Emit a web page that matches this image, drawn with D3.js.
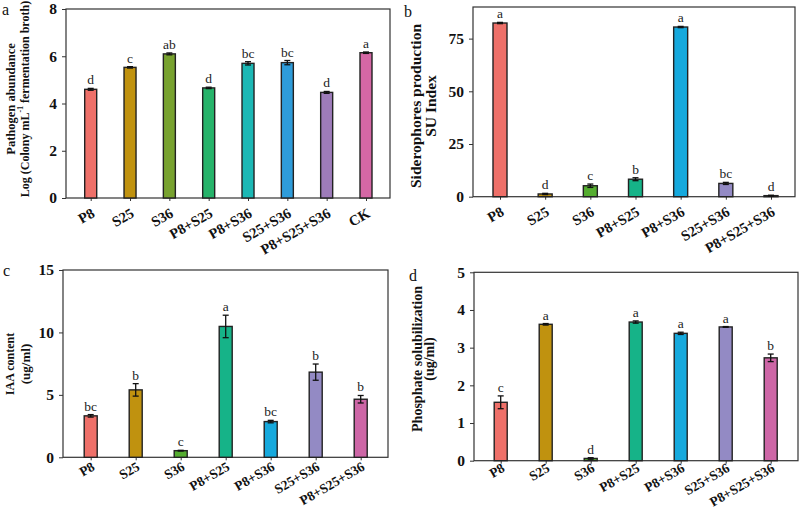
<!DOCTYPE html>
<html>
<head>
<meta charset="utf-8">
<script src="https://cdn.jsdelivr.net/npm/d3@7/dist/d3.min.js"></script>
<style>
  html, body { margin: 0; padding: 0; background: #fff; }
  svg { display: block; }
  text { font-family: "Liberation Serif", "Times New Roman", serif; }
</style>
</head>
<body>
<svg id="chart" width="800" height="509"></svg>
<script>
// ---------- DATA ----------
const catsA = ["P8", "S25", "S36", "P8+S25", "P8+S36", "S25+S36", "P8+S25+S36", "CK"];
const valsA = [4.6, 5.53, 6.1, 4.66, 5.7, 5.73, 4.47, 6.15];
const errsA = [0.04, 0.03, 0.04, 0.03, 0.07, 0.09, 0.04, 0.03];
const lettersA = ["d", "c", "ab", "d", "bc", "bc", "d", "a"];
const colorsA = ["#ee7069", "#c0920f", "#78a22f", "#26b36a", "#1cb8b5", "#2e9cda", "#9e7cba", "#d567a5"];
const ticksA = [0, 2, 4, 6, 8];

const cats7 = ["P8", "S25", "S36", "P8+S25", "P8+S36", "S25+S36", "P8+S25+S36"];
const colors7 = ["#ee7069", "#c0920f", "#55ad30", "#16b388", "#16a9dd", "#938ac4", "#cd66a6"];

const valsB = [82.4, 1.3, 5.2, 8.3, 80.5, 6.3, 0.5];
const errsB = [0.3, 0.3, 0.8, 0.7, 0.3, 0.5, 0.2];
const lettersB = ["a", "d", "c", "b", "a", "bc", "d"];
const ticksB = [0, 25, 50, 75];

const valsC = [3.32, 5.4, 0.53, 10.48, 2.86, 6.82, 4.65];
const errsC = [0.1, 0.5, 0.03, 0.9, 0.1, 0.65, 0.3];
const lettersC = ["bc", "b", "c", "a", "bc", "b", "b"];
const ticksC = [0, 5, 10, 15];

const valsD = [1.55, 3.62, 0.06, 3.68, 3.38, 3.55, 2.73];
const errsD = [0.17, 0.02, 0.02, 0.03, 0.03, 0.01, 0.1];
const lettersD = ["c", "a", "d", "a", "a", "a", "b"];
const ticksD = [0, 1, 2, 3, 4, 5];

// ---------- DRAW ----------
const svg = d3.select("#chart");

function panel(cfg) {
  const g = svg.append("g");
  const x = d3.scalePoint().domain(cfg.cats).range([cfg.c0, cfg.c1]);
  const y = d3.scaleLinear().domain([0, cfg.ymax]).range([cfg.y1, cfg.y0]);

  // frame
  g.append("rect")
    .attr("x", cfg.x0).attr("y", cfg.y0)
    .attr("width", cfg.x1 - cfg.x0).attr("height", cfg.y1 - cfg.y0)
    .attr("fill", "none").attr("stroke", "#333").attr("stroke-width", 1.2);

  // y axis
  const ya = g.append("g").attr("transform", `translate(${cfg.x0},0)`)
    .call(d3.axisLeft(y).tickValues(cfg.ticks).tickSize(4).tickPadding(5).tickFormat(d3.format("d")));
  ya.select(".domain").remove();
  ya.selectAll("line").attr("stroke", "#333");
  ya.selectAll("text").attr("font-family", "Liberation Serif, serif")
    .attr("font-weight", "bold").attr("font-size", 15.5).attr("fill", "#111");

  // x axis
  const xa = g.append("g").attr("transform", `translate(0,${cfg.y1})`)
    .call(d3.axisBottom(x).tickSize(3).tickFormat(""));
  xa.select(".domain").remove();
  xa.selectAll("line").attr("stroke", "#333");

  g.selectAll("text.xl").data(cfg.cats).enter().append("text")
    .attr("class", "xl")
    .attr("transform", d => `translate(${x(d) + 5},${cfg.y1 + cfg.xOff}) rotate(-30)`)
    .attr("text-anchor", "end")
    .attr("font-weight", "bold").attr("font-size", cfg.xFs).attr("fill", "#111")
    .text(d => d);

  const bw = cfg.bw;
  // bars
  g.selectAll("rect.bar").data(cfg.vals).enter().append("rect")
    .attr("class", "bar")
    .attr("x", (d, i) => x(cfg.cats[i]) - bw / 2)
    .attr("y", d => y(d))
    .attr("width", bw)
    .attr("height", d => y(0) - y(d))
    .attr("fill", (d, i) => cfg.colors[i])
    .attr("stroke", "#222").attr("stroke-width", 1.4);

  // error bars
  cfg.vals.forEach((v, i) => {
    const cx = x(cfg.cats[i]);
    const e = cfg.errs[i];
    const yt = y(v + e), yb = y(Math.max(0, v - e));
    g.append("line").attr("x1", cx).attr("x2", cx).attr("y1", yt).attr("y2", yb)
      .attr("stroke", "#111").attr("stroke-width", 1.3);
    [yt, yb].forEach(yy => g.append("line")
      .attr("x1", cx - 3).attr("x2", cx + 3).attr("y1", yy).attr("y2", yy)
      .attr("stroke", "#111").attr("stroke-width", 1.3));
    g.append("text").attr("x", cx).attr("y", yt - 4)
      .attr("text-anchor", "middle").attr("font-size", 13.5).attr("fill", "#222")
      .text(cfg.letters[i]);
  });

  // y labels
  cfg.ylab.forEach((lab, k) => {
    const t = g.append("text")
      .attr("transform", `translate(${cfg.labX[k]},${cfg.labY}) rotate(-90)`)
      .attr("text-anchor", "middle").attr("dominant-baseline", "central")
      .attr("font-weight", "bold").attr("font-size", cfg.labFs[k]).attr("fill", "#111");
    if (Array.isArray(lab)) {
      t.append("tspan").text(lab[0]);
      t.append("tspan").attr("dy", -5).attr("font-size", cfg.labFs[k] * 0.65).text(lab[1]);
      t.append("tspan").attr("dy", 5).text(lab[2]);
    } else {
      t.text(lab);
    }
  });

  // panel letter
  svg.append("text").attr("x", cfg.px).attr("y", cfg.py)
    .attr("font-size", 16).attr("fill", "#111").text(cfg.plabel);
}

panel({
  cats: catsA, vals: valsA, errs: errsA, letters: lettersA, colors: colorsA, ticks: ticksA,
  ymax: 8, x0: 66, x1: 390, y0: 9, y1: 198, c0: 90.7, c1: 366, bw: 12, xOff: 18, xFs: 14.5,
  ylab: ["Pathogen abundance", ["Log (Colony mL", "-1", " fermentation broth)"]],
  labX: [11, 25], labY: 99, labFs: [12.5, 12], plabel: "a", px: 2, py: 15
});

panel({
  cats: cats7, vals: valsB, errs: errsB, letters: lettersB, colors: colors7, ticks: ticksB,
  ymax: 90, x0: 473, x1: 795, y0: 7, y1: 196.7, c0: 500, c1: 771, bw: 14, xOff: 18, xFs: 14.5,
  ylab: ["Siderophores production", "SU Index"],
  labX: [415.5, 430], labY: 106, labFs: [15.5, 15.5], plabel: "b", px: 404, py: 17
});

panel({
  cats: cats7, vals: valsC, errs: errsC, letters: lettersC, colors: colors7, ticks: ticksC,
  ymax: 15, x0: 63, x1: 388, y0: 270, y1: 457.3, c0: 90.7, c1: 360.7, bw: 13, xOff: 12, xFs: 13.5,
  ylab: ["IAA content", "(ug/ml)"],
  labX: [10, 25], labY: 364, labFs: [12, 13], plabel: "c", px: 3, py: 276
});

panel({
  cats: cats7, vals: valsD, errs: errsD, letters: lettersD, colors: colors7, ticks: ticksD,
  ymax: 5, x0: 474, x1: 798, y0: 272.3, y1: 460.7, c0: 500.7, c1: 770.7, bw: 13, xOff: 10, xFs: 13.5,
  ylab: ["Phosphate solubilization", "(ug/ml)"],
  labX: [417.5, 429], labY: 359, labFs: [14, 14], plabel: "d", px: 409, py: 281
});
</script>
</body>
</html>
